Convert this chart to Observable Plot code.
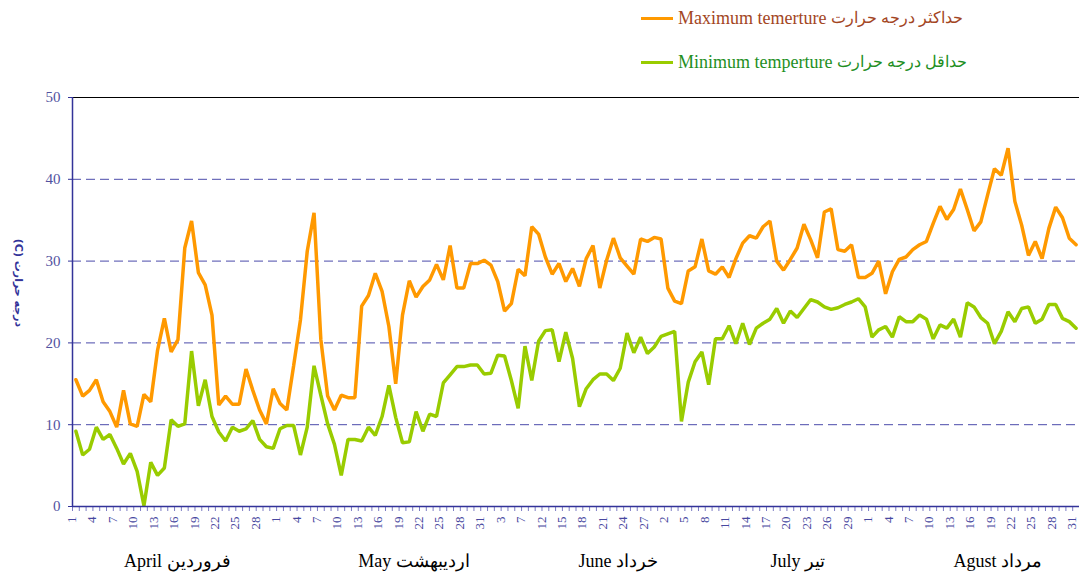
<!DOCTYPE html>
<html><head><meta charset="utf-8">
<script src="https://cdn.jsdelivr.net/npm/d3@7"></script>
<script src="https://cdn.jsdelivr.net/npm/@observablehq/plot@0.6"></script>
<style>
html,body{margin:0;padding:0;background:#fff;overflow:hidden;}
body{width:1079px;height:582px;}
#legend{position:relative;height:85px;font-family:"Liberation Serif","DejaVu Serif",serif;font-size:18px;}
.item{position:absolute;left:641px;display:flex;align-items:center;white-space:nowrap;height:22px;}
.sw{display:inline-block;width:32px;height:3px;margin-right:5px;}
.fa{font-size:15.5px;margin-left:5px;}
#chart svg{display:block;}
</style></head><body>
<div id="legend">
  <div class="item" style="top:7px;color:#a3461f"><span class="sw" style="background:#ff9900"></span>Maximum temerture<span class="fa">حداکثر درجه حرارت</span></div>
  <div class="item" style="top:51px;color:#1f8f1f"><span class="sw" style="background:#99cc00"></span>Minimum temperture<span class="fa">حداقل درجه حرارت</span></div>
</div>
<div id="chart"></div>
<script>
const dayLabels = ["1","4","7","10","13","16","19","22","25","28",
  "1","4","7","10","13","16","19","22","25","28","31",
  "3","7","12","15","18","21","24","27",
  "2","5","8","11","14","17","20","23","26","29",
  "1","4","7","10","13","16","19","22","25","28","31"];

const maxTemp = [
  15.5,13.5,14.2,15.5,12.8,11.6,9.7,14.2,10.1,9.8,
  13.7,12.8,19.1,23.0,18.9,20.4,31.6,34.9,28.6,27.1,
  23.4,12.4,13.5,12.5,12.5,16.8,14.2,11.8,10.1,14.4,
  12.6,11.8,17.2,22.8,31.2,35.9,20.4,13.5,11.8,13.6,
  13.3,13.3,24.5,25.8,28.5,26.3,22.0,15.0,23.4,27.6,
  25.6,26.9,27.7,29.6,27.7,31.9,26.7,26.7,29.7,29.7,
  30.1,29.5,27.5,23.9,24.8,29.0,28.2,34.2,33.3,30.5,
  28.4,29.7,27.5,29.1,26.9,30.3,31.9,26.7,30.1,32.8,
  30.4,29.4,28.4,32.7,32.4,32.9,32.7,26.7,25.1,24.8,
  28.8,29.3,32.7,28.8,28.4,29.3,28.0,30.3,32.2,33.1,
  32.8,34.2,34.9,30.0,28.9,30.2,31.6,34.5,32.6,30.4,
  36.0,36.4,31.4,31.2,32.0,28.0,28.0,28.5,30.0,26.0,
  28.7,30.2,30.5,31.4,32.0,32.4,34.6,36.7,35.1,36.3,
  38.8,36.3,33.7,34.8,38.1,41.3,40.5,43.8,37.3,34.4,
  30.7,32.4,30.3,34.0,36.6,35.3,32.8,32.0];

const minTemp = [
  9.2,6.3,7.0,9.7,8.2,8.8,7.1,5.2,6.5,4.3,
  0.1,5.4,3.8,4.7,10.6,9.8,10.1,19.0,12.3,15.5,
  11.0,9.1,8.0,9.7,9.2,9.5,10.5,8.2,7.3,7.1,
  9.5,9.9,9.9,6.3,9.7,17.2,13.6,10.1,7.6,3.8,
  8.2,8.2,8.0,9.7,8.7,11.0,14.8,10.9,7.8,7.9,
  11.6,9.2,11.3,11.0,15.1,16.1,17.1,17.1,17.3,17.3,
  16.2,16.3,18.5,18.4,15.4,12.0,19.6,15.4,20.2,21.5,
  21.6,17.7,21.3,18.1,12.2,14.4,15.5,16.2,16.2,15.4,
  16.9,21.2,18.8,20.7,18.7,19.5,20.8,21.1,21.4,10.4,
  15.2,17.7,18.9,14.9,20.5,20.5,22.1,19.9,22.4,19.8,
  21.8,22.4,22.9,24.2,22.4,23.9,23.1,24.2,25.3,25.0,
  24.4,24.1,24.3,24.7,25.0,25.4,24.4,20.7,21.6,22.0,
  20.7,23.2,22.6,22.6,23.4,22.9,20.5,22.2,21.8,22.9,
  20.7,24.9,24.4,23.1,22.4,19.9,21.4,23.8,22.6,24.2,
  24.4,22.4,22.9,24.7,24.7,23.0,22.6,21.8];

const months = ["April فروردین","May اردیبهشت","June خرداد","July تیر","Agust مرداد"];
const monthAt = [14.9, 49.7, 79.7, 106.1, 135.5];
const yTicks = [0,10,20,30,40,50];
const yTitle = "(C) درجه حرارت";

const n = maxTemp.length;
const boundaries = d3.range(n + 1).map(i => i - 0.5);
const labelIdx = dayLabels.map((_, k) => k * 3);
const serif = "Liberation Serif, DejaVu Serif, serif";

const chart = Plot.plot({
  width: 1079, height: 497,
  marginTop: 12, marginBottom: 76, marginLeft: 72, marginRight: 0,
  style: {fontFamily: serif, background: "#fff"},
  x: {type: "linear", domain: [-0.5, n - 0.5], range: [72, 1079], axis: null},
  y: {domain: [0, 50], axis: null},
  marks: [
    Plot.ruleY([10,20,30,40], {stroke: "#4b4baa", strokeWidth: 1, strokeDasharray: "9,5"}),
    Plot.ruleY([50], {stroke: "#000", strokeWidth: 1}),
    Plot.axisX({ticks: boundaries, tickSize: 5, tickFormat: () => "", stroke: "#7c7cc4", label: null}),
    Plot.text(labelIdx, {x: d => d, text: (d, k) => dayLabels[k], frameAnchor: "bottom", dy: 10, dx: -4,
      rotate: -90, textAnchor: "end", lineAnchor: "middle", fontSize: 13, fill: "#4848a0", fontFamily: serif}),
    Plot.text(months, {x: (d, i) => monthAt[i], text: d => d, frameAnchor: "bottom", dy: 60,
      fontSize: 18, fill: "#000", fontFamily: serif}),
    Plot.axisY({ticks: yTicks, tickSize: 4, tickPadding: 8, stroke: "#333399", fill: "#5252a0",
      fontSize: 15, fontFamily: serif, label: null}),
    Plot.text([yTitle], {frameAnchor: "left", dx: -54, dy: -19, rotate: 90, textAnchor: "middle",
      fontSize: 11, fontWeight: "bold", fill: "#333399", fontFamily: "DejaVu Sans, sans-serif"}),
    Plot.lineY(minTemp, {x: (d, i) => i, y: d => d, stroke: "#99cc00", strokeWidth: 3.5, strokeLinejoin: "miter"}),
    Plot.lineY(maxTemp, {x: (d, i) => i, y: d => d, stroke: "#ff9900", strokeWidth: 3.5, strokeLinejoin: "miter"}),
    Plot.ruleY([0], {stroke: "#333399", strokeWidth: 1.5}),
    Plot.ruleX([-0.5], {stroke: "#333399", strokeWidth: 1.5})
  ]
});
document.getElementById("chart").appendChild(chart);
</script>
</body></html>
